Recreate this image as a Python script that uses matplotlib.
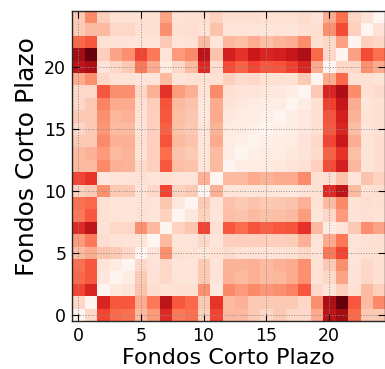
import numpy as np
import matplotlib
matplotlib.use("Agg")
import matplotlib.pyplot as plt

# Pairwise distances between 25 short-term funds (symmetric, zero diagonal)
fondo_00 = [0, .15, .6, .5, .48, .25, .35, .68, .45, .48, .17, .6, .25, .25, .2, .15, .2, .15, .15, .3, .8, .88, .5, .2, .2]
fondo_01 = [.15, 0, .7, .55, .55, .3, .45, .8, .55, .5, .2, .65, .25, .28, .2, .2, .2, .2, .15, .38, .85, 1.0, .55, .25, .4]
fondo_02 = [.6, .7, 0, .08, .1, .22, .13, .11, .12, .12, .38, .08, .4, .35, .4, .36, .38, .42, .55, .15, .1, .18, .12, .25, .18]
fondo_03 = [.5, .55, .08, 0, .06, .2, .11, .15, .1, .09, .2, .1, .28, .25, .28, .25, .26, .3, .38, .11, .15, .32, .11, .15, .12]
fondo_04 = [.48, .55, .1, .06, 0, .15, .1, .15, .09, .09, .2, .1, .27, .27, .28, .25, .28, .3, .38, .11, .2, .38, .1, .15, .12]
fondo_05 = [.25, .3, .22, .2, .15, 0, .1, .38, .12, .11, .09, .12, .14, .11, .12, .1, .11, .12, .15, .1, .46, .6, .1, .12, .12]
fondo_06 = [.35, .45, .13, .11, .1, .1, 0, .25, .09, .1, .15, .09, .18, .18, .18, .18, .18, .19, .28, .1, .3, .45, .1, .12, .12]
fondo_07 = [.68, .8, .11, .15, .15, .38, .25, 0, .17, .21, .6, .12, .55, .49, .56, .52, .55, .56, .66, .25, .06, .1, .2, .38, .32]
fondo_08 = [.45, .55, .12, .1, .09, .12, .09, .17, 0, .08, .17, .09, .24, .22, .25, .23, .24, .25, .34, .09, .15, .35, .1, .12, .11]
fondo_09 = [.48, .5, .12, .09, .09, .11, .1, .21, .08, 0, .2, .1, .22, .2, .22, .2, .21, .22, .28, .11, .25, .4, .11, .13, .12]
fondo_10 = [.17, .2, .38, .2, .2, .09, .15, .6, .17, .2, 0, .28, .09, .09, .09, .09, .08, .08, .1, .12, .68, .8, .25, .11, .13]
fondo_11 = [.6, .65, .08, .1, .1, .12, .09, .12, .09, .1, .28, 0, .25, .25, .3, .27, .3, .3, .4, .12, .13, .22, .09, .22, .17]
fondo_12 = [.25, .25, .4, .28, .27, .14, .18, .55, .24, .22, .09, .25, 0, .05, .06, .06, .08, .1, .12, .18, .58, .72, .26, .1, .13]
fondo_13 = [.25, .28, .35, .25, .27, .11, .18, .49, .22, .2, .09, .25, .05, 0, .03, .06, .06, .08, .1, .14, .52, .66, .24, .1, .13]
fondo_14 = [.2, .2, .4, .28, .28, .12, .18, .56, .25, .22, .09, .3, .06, .03, 0, .03, .05, .06, .1, .15, .6, .75, .29, .1, .13]
fondo_15 = [.15, .2, .36, .25, .25, .1, .18, .52, .23, .2, .09, .27, .06, .06, .03, 0, .03, .05, .08, .12, .55, .7, .24, .09, .12]
fondo_16 = [.2, .2, .38, .26, .28, .11, .18, .55, .24, .21, .08, .3, .08, .06, .05, .03, 0, .05, .08, .12, .56, .72, .27, .1, .12]
fondo_17 = [.15, .2, .42, .3, .3, .12, .19, .56, .25, .22, .08, .3, .1, .08, .06, .05, .05, 0, .05, .12, .61, .77, .29, .09, .12]
fondo_18 = [.15, .15, .55, .38, .38, .15, .28, .66, .34, .28, .1, .4, .12, .1, .1, .08, .08, .05, 0, .2, .7, .85, .39, .12, .14]
fondo_19 = [.3, .38, .15, .11, .11, .1, .1, .25, .09, .11, .12, .12, .18, .14, .15, .12, .12, .12, .2, 0, .3, .5, .12, .12, .1]
fondo_20 = [.8, .85, .1, .15, .2, .46, .3, .06, .15, .25, .68, .13, .58, .52, .6, .55, .56, .61, .7, .3, 0, .15, .15, .38, .3]
fondo_21 = [.88, 1.0, .18, .32, .38, .6, .45, .1, .35, .4, .8, .22, .72, .66, .75, .7, .72, .77, .85, .5, .15, 0, .33, .58, .48]
fondo_22 = [.5, .55, .12, .11, .1, .1, .1, .2, .1, .11, .25, .09, .26, .24, .29, .24, .27, .29, .39, .12, .15, .33, 0, .18, .16]
fondo_23 = [.2, .25, .25, .15, .15, .12, .12, .38, .12, .13, .11, .22, .1, .1, .1, .09, .1, .09, .12, .12, .38, .58, .18, 0, .11]
fondo_24 = [.2, .4, .18, .12, .12, .12, .12, .32, .11, .12, .13, .17, .13, .13, .13, .12, .12, .12, .14, .1, .3, .48, .16, .11, 0]

tick_values = [0, 5, 10, 15, 20]
axis_label = "Fondos Corto Plazo"

matrix = np.array([
    fondo_00, fondo_01, fondo_02, fondo_03, fondo_04, fondo_05, fondo_06,
    fondo_07, fondo_08, fondo_09, fondo_10, fondo_11, fondo_12, fondo_13,
    fondo_14, fondo_15, fondo_16, fondo_17, fondo_18, fondo_19, fondo_20,
    fondo_21, fondo_22, fondo_23, fondo_24,
])

fig = plt.figure(figsize=(3.85, 3.69), dpi=100, facecolor="white")
ax = fig.add_axes([0.1865, 0.1295, 0.8145, 0.8401])

ax.imshow(matrix, cmap="Reds", vmin=0, vmax=1, origin="lower",
          interpolation="nearest", aspect="auto")

ax.set_xticks(tick_values)
ax.set_yticks(tick_values)
ax.tick_params(direction="in", top=True, right=True, length=5, width=0.8,
               labelsize=12.5, pad=4)
ax.grid(True, color="0.55", linestyle=":", linewidth=0.7)
for s in ax.spines.values():
    s.set_linewidth(1.0)
    s.set_color("0.15")

ax.set_xlabel(axis_label, fontsize=16, labelpad=2)
ax.set_ylabel(axis_label, fontsize=18)
ax.yaxis.set_label_coords(-0.104, 0.53)

fig.savefig("out.png", dpi=100, facecolor="white")
